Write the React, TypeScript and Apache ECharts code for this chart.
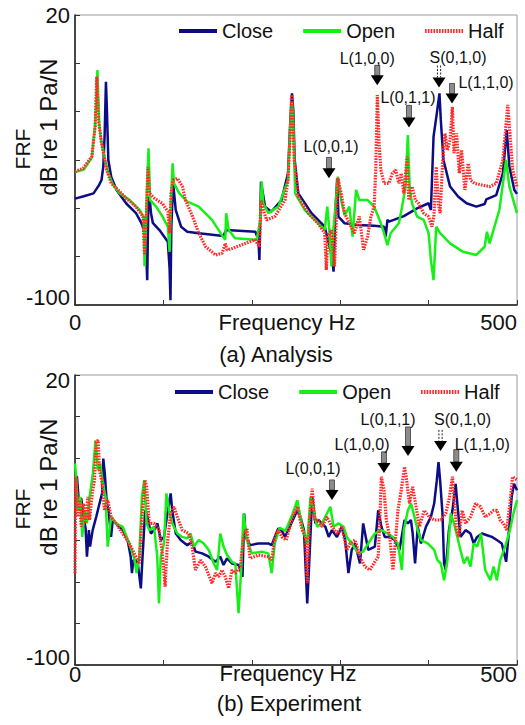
import { useEffect, useRef } from "react";
import * as echarts from "echarts";

type Pt = [number, number];

const FONT = "'Liberation Sans', Arial, sans-serif";
const seriesNames = ["Close", "Open", "Half"];
const seriesColors = ["#0c0c84", "#16f016", "#ff2a2a"];

const freqTicks = [0, 100, 200, 300, 400, 500];
const freqLabels = [0, 500];
const analysisDbTicks = [20, 0, -20, -40, -60, -80, -100];
const experimentDbTicks = [20, 20 - 120 / 7, 20 - 240 / 7, 20 - 360 / 7, 20 - 480 / 7, 20 - 600 / 7, 20 - 720 / 7, -100];
const dbLabels = [20, -100];

// (a) Analysis — FRF in dB re 1 Pa/N against frequency in Hz
const analysisClose: Pt[] = [
  [0, -56], [10, -55], [21, -53.8], [27, -50.5], [30, -48.3], [32, -42.8], [33.5, -30], [35, -7.6], [36, -18],
  [37.7, -40], [41, -47], [47, -52.4], [58, -58], [69, -62], [75, -66], [78.7, -69.7], [80.5, -78], [81.7, -89.7],
  [83, -56.6], [84.3, -55.2], [86, -62], [88, -66], [95.5, -69], [105, -73.8], [107, -85], [108, -98], [109, -67.6],
  [111, -49.7], [114, -60.7], [120, -67.6], [127, -69.7], [140, -70.3], [168, -71.4], [171, -69], [204, -69.7],
  [207.5, -73], [208.6, -81.4], [210.4, -49], [215, -59.3], [222, -61.4], [233.6, -56.6], [241, -45.5], [243.7, -22.8],
  [245.5, -12.4], [247, -20], [248.5, -40], [252.6, -53.8], [267.5, -62], [282.5, -67.6], [290.7, -80], [292.5, -86.2],
  [294.4, -62], [296.6, -47.6], [298, -63.4], [305, -66.2], [319.8, -66.9], [338.4, -67.2], [349.6, -67.6],
  [351.5, -71.7], [353.4, -64.8], [355.2, -65.5], [372, -63.2], [387, -60], [400, -57.9], [402.6, -60.7],
  [405.6, -30.3], [409.3, -20.7], [412.3, -12.4], [413.8, -23.4], [416.8, -40], [424.3, -51], [433.6, -55.2],
  [442.9, -57.9], [454, -59.3], [463.4, -58.2], [465.3, -56.3], [476.5, -54.5], [484, -45.5], [488.4, -27.6],
  [491.4, -42.8], [497, -52.4], [500, -54],
];
const analysisOpen: Pt[] = [
  [0, -45], [10, -44], [19, -39], [22.8, -25], [24, -15], [25.4, -2.8], [26.3, -14], [27.6, -26], [30, -33], [34, -40],
  [37.7, -45.5], [43, -50.3], [50.7, -53.8], [62, -56.6], [73, -60.7], [77.6, -63.4], [78.7, -84], [81.3, -53.8],
  [83.2, -35.2], [85, -56.6], [91.8, -59.3], [99, -63.4], [105, -67.6], [107, -78], [108.6, -56.6], [110.4, -41.4],
  [112, -49.7], [118, -53.8], [127, -57.2], [140, -59.3], [155, -64.8], [166, -71], [170, -73], [171, -62], [174, -69],
  [181, -72.4], [205.6, -73], [209.5, -64.8], [211.2, -49], [213, -58], [218.7, -62], [230, -59.3], [241, -48.3],
  [243.7, -24.8], [245.5, -16], [247, -25], [249, -53.8], [260, -60.7], [271, -64.8], [282.5, -69], [285.4, -59.3],
  [288, -70.3], [290, -84], [292, -70], [297.4, -46.9], [301, -56.6], [305, -62.8], [310.4, -59.3], [314, -71.7],
  [318, -52.4], [321.6, -56.6], [331, -56.6], [338.4, -59.3], [346, -66.2], [349.6, -70.3], [353.4, -75.2],
  [357, -70.3], [366.4, -66.2], [370, -59.3], [374, -51], [376.5, -29.7], [378.7, -52.4], [381.3, -58], [387, -63.4],
  [394.4, -64.8], [400, -70.3], [402.6, -81.4], [405.6, -89.7], [408.6, -67.6], [413, -70.3], [424.3, -74.5],
  [439, -78], [454, -79.3], [463.4, -75.9], [466, -69.7], [469, -74.5], [480, -60.7], [487.7, -40], [491.4, -51],
  [500, -62],
];
const analysisHalf: Pt[] = [
  [0, -44.8], [9.3, -43.4], [19, -38.6], [22.8, -26.2], [24.6, -5.5], [26.5, -23.4], [30, -33], [35.8, -44.1],
  [41, -49.7], [47, -51.7], [58, -55.9], [69, -59.3], [76.9, -63.4], [78.7, -79.3], [80.6, -64.8], [82.5, -42.8],
  [84.3, -53.8], [90, -55.9], [99, -58], [105, -61.4], [107, -70.3], [108.6, -53.8], [111, -48.3], [116, -47.6],
  [121.6, -51], [125, -56.6], [133, -63.4], [140, -70.3], [147.8, -75.9], [159, -79.3], [166.4, -78.6], [170, -74.5],
  [172, -77.2], [177.6, -76.6], [192.5, -74.5], [203.7, -73], [208.6, -75.9], [210.4, -56.6], [213, -60.7],
  [216.8, -64.8], [226, -63.4], [237.5, -56.6], [241, -48.3], [243.7, -26.2], [245, -13.1], [246.5, -25], [248, -40],
  [252.6, -55.2], [263.8, -62], [275, -66.2], [282.5, -70.3], [284.3, -85.5], [286, -71.7], [290, -69], [293.6, -84],
  [295.5, -64.8], [297.4, -47.6], [301, -53.8], [305, -62], [310.4, -66.2], [316, -70.3], [321.6, -63.4],
  [326.5, -77.2], [331, -71.7], [334.7, -63.4], [338.4, -59.3], [340.3, -42.8], [342, -13.1], [344, -33.1],
  [346, -44.1], [349.6, -49.7], [355, -49.7], [359, -45.5], [362.7, -44.1], [366.4, -49.7], [369, -45.5], [372, -53.8],
  [375.7, -38.6], [377.6, -56.6], [381.3, -51], [385, -56.6], [388.8, -58], [394.4, -62], [400, -63.4], [403.7, -67.6],
  [406, -63.4], [408.6, -42.8], [411, -58], [413, -62], [416, -40], [418.6, -29], [421.3, -35.9], [424.3, -31.7],
  [426.9, -18], [428.7, -37.2], [431.7, -29], [434.7, -45.5], [437.3, -35.9], [441, -52.4], [444.8, -41.4],
  [447.4, -48.3], [452, -49.7], [459.7, -50.3], [469, -51], [476.5, -49.7], [484, -40], [489.6, -17.2], [491.4, -26.2],
  [495.1, -44.1], [500, -51],
];

// (b) Experiment
const experimentClose: Pt[] = [
  [0, -22.1], [2.2, -22], [4.5, -33.2], [7, -31], [9.7, -38.7], [12, -43.5], [13.5, -55.2], [15.7, -44.2], [17, -51],
  [20, -44.2], [24, -38.7], [27.7, -33.2], [30.7, -29], [32, -14.6], [33.7, -20.8], [36, -33.2], [38, -36], [40.8, -47],
  [42.7, -40], [46.4, -41.4], [54, -44.2], [59.5, -48.3], [63, -55.2], [64.4, -62], [66, -56.6], [70.8, -57.3],
  [74.5, -68.3], [76.4, -55.2], [79.4, -36], [82, -38.7], [85.8, -45.6], [89.5, -44.2], [93.3, -41.4], [97, -48.3],
  [100.7, -47], [104.5, -37.3], [108.2, -29], [110, -36], [114, -45.6], [119.5, -48.3], [127, -50.4], [132.6, -49],
  [136.3, -53.1], [143.8, -53.8], [151.3, -55.2], [158.8, -57.3], [164.4, -55.2], [168, -58.6], [172, -55.9],
  [177.5, -58], [185, -58.6], [189.5, -63.5], [191.4, -37.3], [193, -47], [198, -50.4], [207.5, -49.7], [218.7, -49.7],
  [222.5, -50.4], [226, -47], [230, -43.5], [233.7, -44.2], [237.5, -47], [241, -44.2], [245.5, -40.7], [251.5, -36],
  [255, -38.7], [259, -44.2], [262.7, -74.5], [264.6, -60.7], [268.3, -30.4], [272, -41.4], [275.7, -40],
  [283.2, -42.8], [287, -47], [290.7, -44.2], [296.3, -47], [301.9, -42.8], [305.6, -48.3], [309.3, -62], [313, -52.4],
  [316.8, -49.7], [322.4, -58], [326, -41.4], [331.7, -52.4], [339.2, -51], [343, -36], [346.6, -42.8], [350.4, -47],
  [356, -47], [361.6, -48.3], [367, -52.4], [372.8, -40], [376.5, -41.4], [380, -40], [382, -45.6], [384.7, -58],
  [387.7, -42.8], [391.4, -49.7], [397, -42.8], [402.6, -38.7], [406.3, -33.2], [409.3, -23.5], [411.2, -16],
  [413, -23.5], [415.7, -37.3], [417.5, -58], [419.4, -60.7], [423, -44.2], [427, -36], [430.6, -25], [432.5, -33.2],
  [436, -47], [441.8, -44.2], [447.4, -45.6], [451, -49.7], [454.9, -47], [460.4, -45.6], [466, -46.3], [471.6, -47],
  [477.2, -48.3], [482.8, -49.7], [487.7, -57.3], [490.3, -47], [494, -30.4], [496.6, -25], [500, -27.7],
];
const experimentOpen: Pt[] = [
  [0, -16.6], [1.5, -23.5], [3.4, -36], [6, -30.4], [8.2, -47], [10.9, -36], [13.5, -41.4], [16.5, -30.4],
  [20.2, -20.8], [23.2, -7], [25.8, -19.4], [28.5, -16.6], [31.5, -25], [34.5, -30.4], [37, -51], [40.8, -38.7],
  [46.4, -41.4], [54, -42.8], [61.4, -49.7], [67, -55.9], [69.7, -62], [72.7, -55.2], [75.7, -30.4], [78.3, -23.5],
  [81, -41.4], [84, -44.2], [89.5, -42.8], [93, -55], [95, -74.5], [97, -55.2], [100.7, -49.7], [103.4, -29],
  [106.4, -36], [110, -41.4], [115.7, -45.6], [121.3, -47], [127, -47.6], [130.7, -45.6], [134.5, -51], [140, -48.3],
  [145.7, -49.7], [151.3, -52.4], [157, -58], [160.7, -60.7], [164.4, -45.6], [168, -51], [172, -54.5], [177.5, -57.3],
  [181.3, -58], [185, -78.6], [188, -60.7], [190.6, -37.3], [194.4, -48.3], [200, -53.8], [211, -53.1], [218.7, -53.8],
  [222.5, -62], [226, -49.7], [231.5, -43.2], [238, -44.5], [241, -42], [245.5, -38], [251.5, -31.8], [257, -42.8],
  [262.7, -49.7], [266.4, -30.4], [270, -36], [273.9, -42.8], [279.5, -41.4], [285, -37.3], [288.8, -34.5],
  [292.5, -42.8], [298, -41.4], [303.7, -42.8], [307.5, -47], [313, -49.7], [320.5, -53.8], [326, -53.1],
  [331.7, -49.7], [339.2, -45.6], [346.6, -44.2], [354, -45.6], [359.7, -47], [365.3, -49.7], [369.8, -60.7],
  [372, -44.2], [376.5, -36], [380.2, -33.2], [384, -38.7], [387.7, -44.2], [391.4, -48.3], [399, -49.7],
  [406.3, -52.4], [410, -56.6], [413.8, -58], [417.5, -64.9], [421.3, -56.6], [425, -37.3], [428.7, -41.4],
  [432.5, -47], [436, -52.4], [440, -58], [443.7, -55.2], [447.4, -59.3], [451, -49.7], [454.9, -51], [459.3, -45.6],
  [464, -60.7], [469.8, -64.9], [473.5, -59.3], [477.2, -64.9], [481, -56.6], [486.6, -51], [492, -44.2], [496, -37.3],
  [500, -31.8],
];
const experimentHalf: Pt[] = [
  [0, -62], [0.8, -22.1], [1.5, -22.1], [3.4, -38.7], [5.2, -31.8], [7, -42.8], [9.7, -33.2], [12, -41.4],
  [14.6, -30.4], [16.5, -40], [19.5, -29], [22, -23.5], [24, -7.7], [26.2, -7], [27.7, -19.4], [30.7, -25], [33.3, -36],
  [37, -31.8], [40.8, -38.7], [46.4, -41.4], [54, -45.6], [61.4, -49.7], [67, -53.8], [72.7, -58], [75.7, -40],
  [79, -23.5], [81, -26.3], [84, -41.4], [89.5, -41.4], [95, -44.2], [98.8, -53.8], [101.9, -67.6], [104.5, -49.7],
  [108.2, -37.3], [112, -34.5], [115.7, -38.7], [121.3, -44.2], [128.8, -45.6], [132, -50], [136.3, -60.7],
  [142, -56.6], [147.6, -59.3], [155, -66.2], [158.8, -62], [162.5, -63.5], [166.3, -60.7], [170, -63.5],
  [173.8, -68.3], [177.5, -60.7], [181.3, -62], [187, -59.3], [190.6, -47], [194.4, -43.5], [198, -55.9],
  [207.5, -54.5], [218.7, -55.2], [222.5, -56.6], [226, -47], [230, -44.2], [234, -47], [239, -48.3], [245.5, -39.5],
  [251.5, -34.5], [257, -44.2], [260.8, -47], [262.7, -66.2], [265.3, -40], [268.3, -27], [271.3, -40], [275, -40],
  [279.5, -42.8], [285, -38.7], [290.7, -42.8], [296.3, -45.6], [301.9, -42.8], [307.5, -52.4], [311.2, -49.7],
  [316.8, -48.3], [322.4, -55.2], [328, -59.3], [333.6, -60.7], [339.2, -57.3], [343, -55.2], [344.8, -40],
  [346.6, -22.1], [349.6, -27.7], [352.2, -40], [356, -47], [359.7, -60.7], [361.6, -52.4], [365.3, -36], [369, -27.7],
  [372.8, -18], [374.6, -22.1], [378.4, -33.2], [382, -26.3], [385.8, -34.5], [389.6, -42.8], [395, -36],
  [400.7, -38.7], [406.3, -40], [413.8, -40], [419.4, -37.3], [423, -31.8], [427, -22.1], [428.7, -30.4],
  [431.7, -44.2], [434.3, -47], [438, -36], [441.8, -41.4], [447.4, -38.7], [453, -33.2], [458.6, -34.5], [464, -38.7],
  [469.8, -37.3], [473.5, -36], [477.2, -36], [481, -40], [484.7, -41.4], [488.4, -44.2], [492, -33.2], [495, -22.1],
  [500, -23.5],
];

// Mode labels: arrow tip in (Hz, dB), arrow length and label offset in px
type ModeNote = { label: string; freq: number; db: number; len: number; dx: number; dy: number; twin?: boolean };
const analysisModes: ModeNote[] = [
  { label: "L(0,0,1)", freq: 287.3, db: -47.6, len: 21, dx: 2, dy: -32 },
  { label: "L(1,0,0)", freq: 341.9, db: -9.1, len: 20, dx: -10, dy: -27 },
  { label: "L(0,1,1)", freq: 377.8, db: -26.5, len: 22, dx: -1, dy: -30 },
  { label: "S(0,1,0)", freq: 411.8, db: -10, len: 22, dx: 19, dy: -30, twin: true },
  { label: "L(1,1,0)", freq: 426.5, db: -16.6, len: 20, dx: 34, dy: -21 },
];
const experimentModes: ModeNote[] = [
  { label: "L(0,0,1)", freq: 290.7, db: -31.7, len: 20, dx: -19, dy: -31 },
  { label: "L(1,0,0)", freq: 349.5, db: -20.5, len: 21, dx: -22, dy: -28 },
  { label: "L(0,1,1)", freq: 376.7, db: -13.5, len: 29, dx: -20, dy: -36 },
  { label: "S(0,1,0)", freq: 413.5, db: -11.4, len: 21, dx: 22, dy: -31, twin: true },
  { label: "L(1,1,0)", freq: 431.3, db: -20, len: 22, dx: 26, dy: -27 },
];

const GRID_LEFT = 75;
const GRID_WIDTH = 442;
const GRID_HEIGHT = 290;
const GRID_TOPS = [15, 375];

function makeXAxis(gridIndex: number) {
  return {
    type: "value",
    gridIndex,
    min: 0,
    max: 500,
    splitLine: { show: false },
    axisLine: { onZero: false, lineStyle: { color: "#1a1a1a", width: 1.5 } },
    axisTick: { inside: true, length: 5, customValues: freqTicks, lineStyle: { color: "#333", width: 1 } },
    axisLabel: {
      customValues: freqLabels,
      margin: gridIndex === 0 ? 6 : -2,
      fontSize: 22,
      color: "#111",
      fontFamily: FONT,
      alignMaxLabel: "right",
    },
  };
}

function makeYAxis(gridIndex: number, ticks: number[]) {
  return {
    type: "value",
    gridIndex,
    min: -100,
    max: 20,
    splitLine: { show: false },
    axisLine: { onZero: false, lineStyle: { color: "#1a1a1a", width: 1.5 } },
    axisTick: { inside: true, length: 5, customValues: ticks, lineStyle: { color: "#333", width: 1 } },
    axisLabel: {
      customValues: dbLabels,
      margin: 5,
      color: "#111",
      fontFamily: FONT,
      fontSize: 22,
      formatter: (v: number) => (v <= -100 ? "{lo|-100}" : gridIndex === 1 ? "{hi2|20}" : "{hi|20}"),
      rich: {
        lo: { fontSize: 22, fontFamily: FONT, color: "#111", padding: [0, 0, 16, 0] },
        hi: { fontSize: 22, fontFamily: FONT, color: "#111" },
        hi2: { fontSize: 22, fontFamily: FONT, color: "#111", padding: [10, 0, 0, 0] },
      },
    },
  };
}

function makeSeries(gridIndex: number, data: Pt[][]) {
  return data.map((d, i) => ({
    name: seriesNames[i],
    type: "line",
    xAxisIndex: gridIndex,
    yAxisIndex: gridIndex,
    data: d,
    symbol: "none",
    clip: true,
    z: 2 + i,
    lineStyle: {
      color: seriesColors[i],
      width: i === 2 ? 3.2 : 2.5,
      type: i === 2 ? [1.6, 1.2] : "solid",
    },
    itemStyle: { color: seriesColors[i] },
  }));
}

function modeGraphics(chart: echarts.ECharts, gridIndex: number, notes: ModeNote[]) {
  const out: any[] = [];
  const headH = 10;
  const headW = 13;
  for (const n of notes) {
    const [px, py] = chart.convertToPixel({ gridIndex }, [n.freq, n.db]) as number[];
    const top = py - n.len;
    if (n.twin) {
      for (const off of [-1.6, 1.6]) {
        out.push({
          type: "line",
          z: 100,
          shape: { x1: px + off, y1: top, x2: px + off, y2: py - headH },
          style: { stroke: "#222", lineWidth: 1, lineDash: [2, 1.5] },
        });
      }
    } else {
      out.push({
        type: "rect",
        z: 100,
        shape: { x: px - 2.5, y: top, width: 5, height: n.len - headH },
        style: { fill: "#8c8c8c", stroke: "#3a3a3a", lineWidth: 0.8 },
      });
    }
    out.push({
      type: "polygon",
      z: 101,
      shape: { points: [[px - headW / 2, py - headH], [px + headW / 2, py - headH], [px, py]] },
      style: { fill: "#000" },
    });
    out.push({
      type: "text",
      z: 102,
      x: px + n.dx,
      y: py + n.dy,
      style: {
        text: n.label,
        fontSize: 16,
        fontFamily: FONT,
        fill: "#111",
        align: "center",
        verticalAlign: "middle",
      },
    });
  }
  return out;
}

function frameText(text: string, x: number, y: number, size: number, rotate = false) {
  return {
    type: "text",
    z: 100,
    x,
    y,
    rotation: rotate ? Math.PI / 2 : 0,
    style: { text, fontSize: size, fontFamily: FONT, fill: "#111", align: "center", verticalAlign: "middle" },
  };
}

export default function App() {
  const ref = useRef<HTMLDivElement>(null);

  useEffect(() => {
    if (!ref.current) return;
    const chart = echarts.init(ref.current, undefined, { renderer: "svg" });

    const legendBase = {
      data: seriesNames,
      orient: "horizontal",
      padding: 0,
      itemWidth: 38,
      itemHeight: 20,
      itemGap: 28,
      selectedMode: false,
      // line samples only, no marker in the middle
      itemStyle: { opacity: 0 },
      lineStyle: { width: 4 },
      textStyle: { fontSize: 20, fontFamily: FONT, color: "#111" },
    };

    chart.setOption({
      animation: false,
      backgroundColor: "#fff",
      grid: GRID_TOPS.map((top) => ({
        left: GRID_LEFT,
        top,
        width: GRID_WIDTH,
        height: GRID_HEIGHT,
        show: true,
        borderColor: "#9a9a9a",
        borderWidth: 1,
        backgroundColor: "transparent",
      })),
      legend: [
        { ...legendBase, left: 177, top: 21 },
        { ...legendBase, left: 173, top: 382 },
      ],
      xAxis: [makeXAxis(0), makeXAxis(1)],
      yAxis: [makeYAxis(0, analysisDbTicks), makeYAxis(1, experimentDbTicks)],
      series: [
        ...makeSeries(0, [analysisClose, analysisOpen, analysisHalf]),
        ...makeSeries(1, [experimentClose, experimentOpen, experimentHalf]),
      ],
    });

    chart.setOption({
      graphic: [
        frameText("FRF", 22, 149, 21, true),
        frameText("dB re 1 Pa/N", 48, 127, 24, true),
        frameText("FRF", 22, 509, 21, true),
        frameText("dB re 1 Pa/N", 48, 487, 24, true),
        frameText("Frequency Hz", 287, 322, 22),
        frameText("Frequency Hz", 288, 673, 22),
        frameText("(a) Analysis", 276, 354, 22),
        frameText("(b) Experiment", 289, 703, 22),
        ...modeGraphics(chart, 0, analysisModes),
        ...modeGraphics(chart, 1, experimentModes),
      ],
    });

    return () => chart.dispose();
  }, []);

  return (
    <div
      ref={ref}
      style={{ position: "absolute", left: 0, top: 0, width: 525, height: 725 }}
    />
  );
}
